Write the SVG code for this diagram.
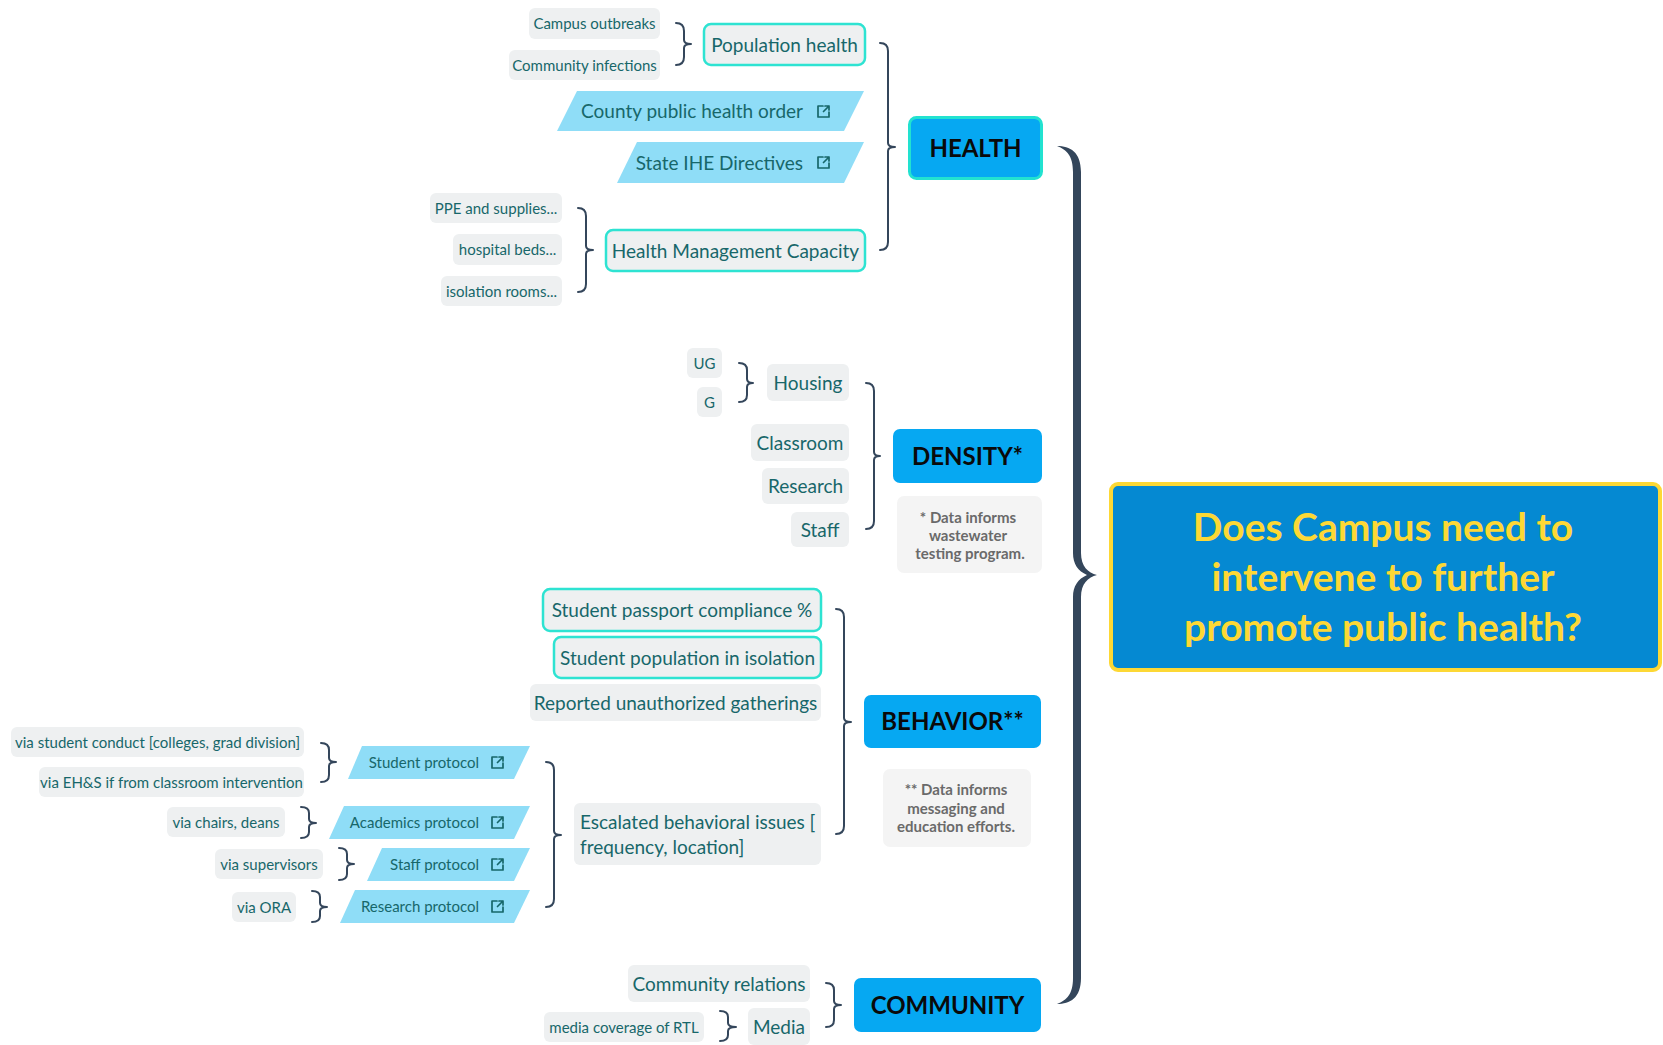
<svg xmlns="http://www.w3.org/2000/svg" width="1663" height="1045" viewBox="0 0 1663 1045">
<style>
  text { font-family: Lato, "Open Sans", "Liberation Sans", sans-serif; }
  .box { fill: #eef0f1; }
  .hl { fill: #eef0f1; stroke: #2ee3d2; stroke-width: 2.5; }
  .link { fill: #8fddf7; }
  .t14 { font-size: 15px; fill: #17676a; text-anchor: middle; }
  .t18 { font-size: 19px; fill: #17676a; text-anchor: middle; }
  .t18l { font-size: 19px; fill: #17676a; }
  .tl14 { font-size: 15px; fill: #17676a; text-anchor: end; }
  .tl18 { font-size: 19px; fill: #17676a; text-anchor: end; }
  .cat { fill: #06a8f2; }
  .catt { font-size: 24px; font-weight: bold; fill: #0a0a0a; text-anchor: middle; }
  .note { fill: #f4f4f4; }
  .notet { font-size: 15px; font-weight: bold; fill: #6a6a6a; text-anchor: middle; }
  .central { font-size: 39px; font-weight: bold; fill: #fdd835; text-anchor: middle; }
  .brace { fill: none; stroke: #34465b; stroke-width: 2; stroke-linecap: round; stroke-linejoin: round; }
  .icon { fill: none; stroke: #17676a; stroke-width: 1.7; stroke-linecap: round; stroke-linejoin: round; }
</style>
<defs>
  <g id="ext">
    <path class="icon" d="M5,0 H0 V11 H11 V6 M5.5,5.5 L11,0 M7,0 H11 V4"/>
  </g>
</defs>
<rect width="1663" height="1045" fill="#ffffff"/>

<g id="connectors">
  <path fill="#34465b" d="M1057,146 C1070,146 1081,152 1081,172 L1081,553 C1081,566 1088,573 1097,575 C1088,577 1081,584 1081,597 L1081,978 C1081,998 1070,1004 1057,1004 C1067,1000 1073,994 1073,978 L1073,597 C1073,586 1078,579 1087,575 C1078,571 1073,564 1073,553 L1073,172 C1073,156 1067,150 1057,146 Z"/>
  <path class="brace" d="M676,23 Q684,23 684,31 V40 Q684,44 691,44 Q684,44 684,48 V57 Q684,65 676,65"/>
  <path class="brace" d="M578,208 Q586,208 586,216 V246 Q586,250 593,250 Q586,250 586,254 V284 Q586,292 578,292"/>
  <path class="brace" d="M880,43 Q888,43 888,51 V143 Q888,147 895,147 Q888,147 888,151 V242 Q888,250 880,250"/>
  <path class="brace" d="M739,363 Q747,363 747,370 V379 Q747,383 753,383 Q747,383 747,387 V395 Q747,402 739,402"/>
  <path class="brace" d="M866,383 Q874,383 874,391 V452 Q874,456 880,456 Q874,456 874,460 V521 Q874,529 866,529"/>
  <path class="brace" d="M836,609 Q844,609 844,617 V718 Q844,722 851,722 Q844,722 844,726 V826 Q844,834 836,834"/>
  <path class="brace" d="M546,762 Q554,762 554,770 V831 Q554,835 561,835 Q554,835 554,839 V899 Q554,907 546,907"/>
  <path class="brace" d="M321,743 Q329,743 329,750 V758 Q329,762 336,762 Q329,762 329,766 V775 Q329,782 321,782"/>
  <path class="brace" d="M301,807 Q309,807 309,813 V819 Q309,823 316,823 Q309,823 309,827 V832 Q309,838 301,838"/>
  <path class="brace" d="M339,848 Q347,848 347,854 V860 Q347,864 354,864 Q347,864 347,868 V874 Q347,880 339,880"/>
  <path class="brace" d="M312,891 Q320,891 320,897 V903 Q320,907 327,907 Q320,907 320,911 V916 Q320,922 312,922"/>
  <path class="brace" d="M720,1011 Q728,1011 728,1017 V1023 Q728,1027 736,1027 Q728,1027 728,1031 V1035 Q728,1041 720,1041"/>
  <path class="brace" d="M826,983 Q834,983 834,990 V1001 Q834,1005 841,1005 Q834,1005 834,1009 V1020 Q834,1027 826,1027"/>
</g>

<!-- HEALTH branch -->
<g id="node-campus-outbreaks"><rect class="box" x="529" y="8" width="131" height="31" rx="6"/><text class="t14" x="594.5" y="29">Campus outbreaks</text></g>
<g id="node-community-infections"><rect class="box" x="509" y="50" width="151" height="30" rx="6"/><text class="t14" x="584.5" y="70.5">Community infections</text></g>
<g id="node-population-health"><rect class="hl" x="704" y="24" width="161" height="41" rx="7"/><text class="t18" x="784.5" y="51.5">Population health</text></g>
<g id="node-county-order"><polygon class="link" points="577,91 864,91 844,131 557,131"/><text class="tl18" x="803" y="118">County public health order</text><use href="#ext" x="818" y="106"/></g>
<g id="node-state-ihe"><polygon class="link" points="637,142 864,142 844,183 617,183"/><text class="tl18" x="803" y="169.5">State IHE Directives</text><use href="#ext" x="818" y="157"/></g>
<g id="node-ppe"><rect class="box" x="430" y="193" width="132" height="30" rx="6"/><text class="t14" x="496" y="213.5">PPE and supplies...</text></g>
<g id="node-beds"><rect class="box" x="453" y="234" width="109" height="31" rx="6"/><text class="t14" x="507.5" y="255">hospital beds...</text></g>
<g id="node-isolation-rooms"><rect class="box" x="441" y="276" width="121" height="30" rx="6"/><text class="t14" x="501.5" y="296.5">isolation rooms...</text></g>
<g id="node-health-capacity"><rect class="hl" x="606" y="230" width="259" height="41" rx="7"/><text class="t18" x="735.5" y="257.5">Health Management Capacity</text></g>
<g id="node-health"><rect class="cat" x="909.5" y="117.5" width="132" height="61" rx="7" stroke="#22e2d0" stroke-width="3"/><text class="catt" x="975.5" y="156.5">HEALTH</text></g>

<!-- DENSITY branch -->
<g id="node-ug"><rect class="box" x="687" y="348" width="35" height="30" rx="6"/><text class="t14" x="704.5" y="368.5">UG</text></g>
<g id="node-g"><rect class="box" x="697" y="387" width="25" height="30" rx="6"/><text class="t14" x="709.5" y="407.5">G</text></g>
<g id="node-housing"><rect class="box" x="767" y="364" width="82" height="37" rx="6"/><text class="t18" x="808" y="389.5">Housing</text></g>
<g id="node-classroom"><rect class="box" x="751" y="424" width="98" height="37" rx="6"/><text class="t18" x="800" y="449.5">Classroom</text></g>
<g id="node-research"><rect class="box" x="762" y="468" width="87" height="36" rx="6"/><text class="t18" x="805.5" y="493">Research</text></g>
<g id="node-staff"><rect class="box" x="791" y="512" width="58" height="35" rx="6"/><text class="t18" x="820" y="536.5">Staff</text></g>
<g id="node-density"><rect class="cat" x="893" y="429" width="149" height="54" rx="7"/><text class="catt" x="967.5" y="464.5">DENSITY*</text></g>
<g id="node-density-note"><rect class="note" x="897" y="496" width="145" height="77" rx="7"/><text class="notet" x="968" y="522.5">* Data informs</text><text class="notet" x="968" y="540.5">wastewater</text><text class="notet" x="970" y="558.5">testing program.</text></g>

<!-- BEHAVIOR branch -->
<g id="node-passport"><rect class="hl" x="543" y="589" width="278" height="42" rx="7"/><text class="t18" x="682" y="617">Student passport compliance %</text></g>
<g id="node-student-isolation"><rect class="hl" x="554" y="637" width="267" height="41" rx="7"/><text class="t18" x="687.5" y="664.5">Student population in isolation</text></g>
<g id="node-gatherings"><rect class="box" x="530" y="684" width="291" height="37" rx="6"/><text class="t18" x="675.5" y="709.5">Reported unauthorized gatherings</text></g>
<g id="node-escalated"><rect class="box" x="574" y="803" width="247" height="62" rx="6"/><text class="t18l" x="580" y="829">Escalated behavioral issues [</text><text class="t18l" x="580" y="854">frequency, location]</text></g>
<g id="node-behavior"><rect class="cat" x="864" y="695" width="177" height="53" rx="7"/><text class="catt" x="952.5" y="730">BEHAVIOR**</text></g>
<g id="node-behavior-note"><rect class="note" x="883" y="769" width="148" height="78" rx="7"/><text class="notet" x="956" y="794.5">** Data informs</text><text class="notet" x="956" y="813.5">messaging and</text><text class="notet" x="956" y="831.5">education efforts.</text></g>
<g id="node-via-conduct"><rect class="box" x="11" y="727" width="293" height="30" rx="6"/><text class="t14" x="157.5" y="747.5">via student conduct [colleges, grad division]</text></g>
<g id="node-via-ehs"><rect class="box" x="39" y="767" width="265" height="30" rx="6"/><text class="t14" x="171.5" y="787.5">via EH&amp;S if from classroom intervention</text></g>
<g id="node-student-protocol"><polygon class="link" points="362,746 530,746 514,779 348,779"/><text class="tl14" x="479" y="768">Student protocol</text><use href="#ext" x="492" y="757"/></g>
<g id="node-via-chairs"><rect class="box" x="167" y="807" width="118" height="30" rx="6"/><text class="t14" x="226" y="827.5">via chairs, deans</text></g>
<g id="node-academics-protocol"><polygon class="link" points="344,806 530,806 514,839 329,839"/><text class="tl14" x="479" y="828">Academics protocol</text><use href="#ext" x="492" y="817"/></g>
<g id="node-via-supervisors"><rect class="box" x="215" y="849" width="108" height="30" rx="6"/><text class="t14" x="269" y="869.5">via supervisors</text></g>
<g id="node-staff-protocol"><polygon class="link" points="382,848 530,848 514,881 367,881"/><text class="tl14" x="479" y="870">Staff protocol</text><use href="#ext" x="492" y="859"/></g>
<g id="node-via-ora"><rect class="box" x="232" y="892" width="64" height="30" rx="6"/><text class="t14" x="264" y="912.5">via ORA</text></g>
<g id="node-research-protocol"><polygon class="link" points="355,890 530,890 514,923 340,923"/><text class="tl14" x="479" y="912">Research protocol</text><use href="#ext" x="492" y="901"/></g>

<!-- COMMUNITY branch -->
<g id="node-community-relations"><rect class="box" x="628" y="965" width="182" height="37" rx="6"/><text class="t18" x="719" y="990.5">Community relations</text></g>
<g id="node-media-coverage"><rect class="box" x="544" y="1012" width="160" height="30" rx="6"/><text class="t14" x="624" y="1032.5">media coverage of RTL</text></g>
<g id="node-media"><rect class="box" x="748" y="1008" width="62" height="37" rx="6"/><text class="t18" x="779" y="1033.5">Media</text></g>
<g id="node-community"><rect class="cat" x="854" y="978" width="187" height="54" rx="7"/><text class="catt" x="947.5" y="1013.5">COMMUNITY</text></g>

<!-- Central topic -->
<g id="node-central"><rect x="1111" y="484" width="549" height="186" rx="7" fill="#0589d2" stroke="#fdd835" stroke-width="4"/><text class="central" x="1383" y="541">Does Campus need to</text><text class="central" x="1383" y="591">intervene to further</text><text class="central" x="1383" y="641">promote public health?</text></g>
</svg>
